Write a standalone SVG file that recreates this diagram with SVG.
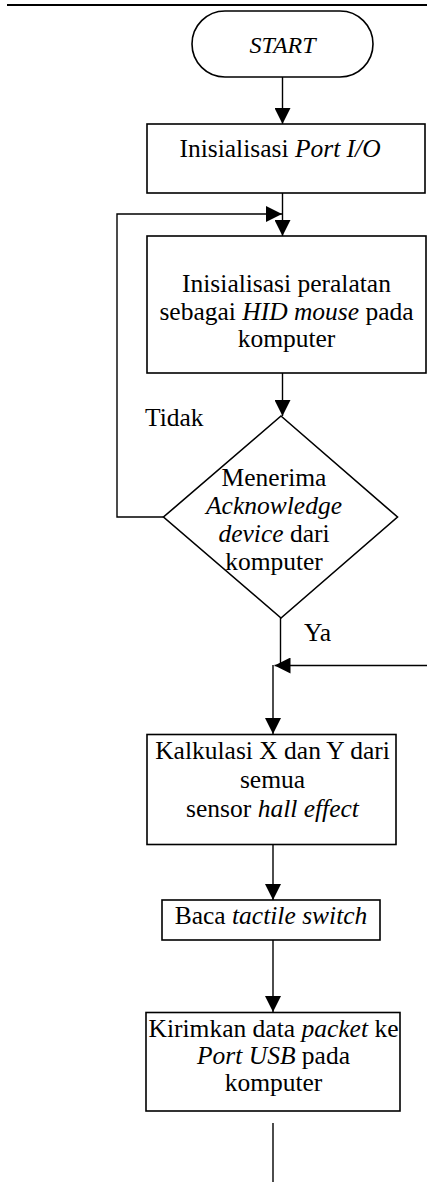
<svg xmlns="http://www.w3.org/2000/svg" width="427" height="1182" viewBox="0 0 427 1182">
<style>
.s{fill:#fff;stroke:#000;stroke-width:1.6}
.c{fill:none;stroke:#000;stroke-width:1.4}
.t{font-family:"Liberation Serif","Times New Roman",serif;font-size:25.5px;fill:#000;text-anchor:middle}
.l{font-family:"Liberation Serif","Times New Roman",serif;font-size:25.5px;fill:#000}
.i{font-style:italic}
</style>
<defs>
<marker id="ah" viewBox="0 0 16 16" refX="16" refY="8" markerWidth="16" markerHeight="16" markerUnits="userSpaceOnUse" orient="auto">
<path d="M0,0 L16,8 L0,16 Z" fill="#000"/>
</marker>
</defs>
<rect x="0" y="0" width="427" height="1182" fill="#fff"/>
<line x1="7" y1="5" x2="427" y2="5" stroke="#000" stroke-width="2.2"/>
<g id="connectors">
<line class="c" x1="282.5" y1="77" x2="282.5" y2="124" marker-end="url(#ah)"/>
<line class="c" x1="282.5" y1="193" x2="282.5" y2="236" marker-end="url(#ah)"/>
<polyline class="c" points="163.5,517 117,517 117,214 282,214" marker-end="url(#ah)"/>
<line class="c" x1="282.5" y1="373" x2="282.5" y2="416" marker-end="url(#ah)"/>
<line class="c" x1="280.5" y1="618" x2="280.5" y2="665.5"/>
<line class="c" x1="427" y1="665.5" x2="274.5" y2="665.5" marker-end="url(#ah)"/>
<line class="c" x1="273" y1="665" x2="273" y2="734" marker-end="url(#ah)"/>
<line class="c" x1="273" y1="844" x2="273" y2="900" marker-end="url(#ah)"/>
<line class="c" x1="273" y1="940" x2="273" y2="1012" marker-end="url(#ah)"/>
<line class="c" x1="273" y1="1123" x2="273" y2="1182"/>
</g>
<g id="start">
<rect class="s" x="192" y="11" width="181" height="66" rx="33" ry="33"/>
<text class="t i" x="282.5" y="53" style="font-size:24px">START</text>
</g>
<g id="init-port">
<rect class="s" x="147" y="124" width="278" height="69"/>
<text class="t" x="280" y="157">Inisialisasi <tspan class="i">Port I/O</tspan></text>
</g>
<g id="init-hid">
<rect class="s" x="147" y="236" width="279" height="137"/>
<text class="t" x="286.5" y="292">Inisialisasi peralatan</text>
<text class="t" x="286.5" y="319.5">sebagai <tspan class="i">HID mouse</tspan> pada</text>
<text class="t" x="286.5" y="347">komputer</text>
</g>
<g id="decision">
<polygon class="s" points="281,416 397.5,517 281,618 163.5,517"/>
<text class="t" x="274" y="486">Menerima</text>
<text class="t i" x="274" y="513.5">Acknowledge</text>
<text class="t" x="274" y="541.5"><tspan class="i">device</tspan> dari</text>
<text class="t" x="274" y="570">komputer</text>
</g>
<g id="label-tidak">
<text class="l" x="145" y="426">Tidak</text>
</g>
<g id="label-ya">
<text class="l" x="304" y="641">Ya</text>
</g>
<g id="calc">
<rect class="s" x="147" y="734.5" width="249" height="110"/>
<text class="t" x="272.5" y="759">Kalkulasi X dan Y dari</text>
<text class="t" x="272.5" y="788">semua</text>
<text class="t" x="272.5" y="817">sensor <tspan class="i">hall effect</tspan></text>
</g>
<g id="read-switch">
<rect class="s" x="162" y="900" width="218" height="40"/>
<text class="t" x="271" y="924">Baca <tspan class="i">tactile switch</tspan></text>
</g>
<g id="send">
<rect class="s" x="146" y="1012.5" width="254" height="98.5"/>
<text class="t" x="273.5" y="1037">Kirimkan data <tspan class="i">packet</tspan> ke</text>
<text class="t" x="273.5" y="1064"><tspan class="i">Port USB</tspan> pada</text>
<text class="t" x="273.5" y="1091">komputer</text>
</g>
</svg>
